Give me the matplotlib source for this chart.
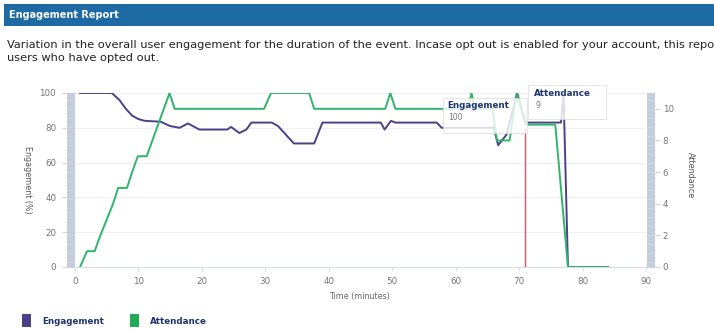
"""Engagement report chart: engagement (%) and attendance over the event."""

import matplotlib

matplotlib.use("Agg")

import matplotlib.pyplot as plt
from matplotlib.patches import Rectangle

# --- data ------------------------------------------------------------------
eng_time = [0.8, 5.8, 7.0, 8.0, 9.0, 10.0, 11.0, 13.5, 15.0, 16.5, 17.8, 19.6,
            24.0, 24.6, 25.9, 27.0, 27.8, 31.0, 32.0, 33.0, 34.5, 37.7, 39.0,
            48.2, 48.8, 49.8, 50.5, 57.0, 57.8, 66.0, 66.7, 68.0, 69.7, 71.0,
            76.6, 77.0, 77.7, 84.0]
eng_value = [100, 100, 96, 91, 87, 85, 84, 83.5, 81, 80, 82.5, 79,
             79, 80.5, 77, 79, 83, 83, 81, 77, 71, 71, 83,
             83, 79, 84, 83, 83, 80, 80, 70, 76, 100, 83,
             83, 100, 0, 0]

att_time = [0.8, 1.9, 3.1, 4.0, 5.0, 6.0, 6.8, 8.2, 9.0, 9.9, 11.3, 12.2,
            13.1, 14.0, 14.9, 15.7, 29.8, 30.9, 36.9, 37.7, 48.9, 49.7, 50.5,
            62.0, 62.5, 63.0, 65.8, 66.5, 68.5, 69.6, 71.0, 75.7, 77.7, 84.0]
att_value = [0, 1, 1, 2, 3, 4, 5, 5, 6, 7, 7, 8,
             9, 10, 11, 10, 10, 11, 11, 10, 10, 11, 10,
             10, 11, 10, 10, 8, 8, 11, 9, 9, 0, 0]

x_ticks = [0, 10, 20, 30, 40, 50, 60, 70, 80, 90]
eng_ticks = [0, 20, 40, 60, 80, 100]
att_ticks = [0, 2, 4, 6, 8, 10]
marker_time = 71.0
tip_engagement = "100"
tip_attendance = "9"

PURPLE = "#4b4189"
GREEN = "#2fb46b"
HEADER_BLUE = "#1d6aa5"
TEXT_NAVY = "#1f3570"
W, H = 714, 329


def px(x, y):
    """Pixel position (from top-left) to figure fraction."""
    return x / W, 1 - y / H


fig = plt.figure(figsize=(W / 100, H / 100), dpi=100)
fig.patch.set_facecolor("white")

# header bar and intro text
fig.patches.append(Rectangle(px(4, 26), 710 / W, 22 / H, transform=fig.transFigure,
                             facecolor=HEADER_BLUE, edgecolor="none"))
fig.text(*px(9, 15.5), "Engagement Report", color="white", fontsize=7,
         fontweight="bold", va="center")
fig.text(*px(7, 45), "Variation in the overall user engagement for the duration of "
         "the event. Incase opt out is enabled for your account, this report "
         "excludes", fontsize=8.2, color="#222222", va="center")
fig.text(*px(7, 58), "users who have opted out.", fontsize=8.2, color="#222222",
         va="center")

# main axes
x0, y_top = px(75, 93)
x1, y_bot = px(646, 267)
ax = fig.add_axes([x0, y_bot, x1 - x0, y_top - y_bot])
ax2 = ax.twinx()

ax.set_xlim(0, 90)
ax.set_ylim(0, 100)
ax2.set_ylim(0, 11)

ax.plot(eng_time, eng_value, color=PURPLE, lw=1.4, zorder=3)
ax2.plot(att_time, att_value, color=GREEN, lw=1.4, zorder=3)
ax.vlines(marker_time, 0, 80, color="#e0506a", lw=1.0, zorder=4)

for a in (ax, ax2):
    for side in a.spines:
        a.spines[side].set_visible(False)
ax.spines["bottom"].set_visible(True)
ax.spines["bottom"].set_color("#d8dde4")

ax.set_xticks(x_ticks)
ax.set_yticks(eng_ticks)
ax2.set_yticks(att_ticks)
ax.grid(axis="y", color="#eef0f3", lw=0.7)
ax.set_axisbelow(True)

ax.tick_params(axis="x", length=3, color="#dde1e6", pad=4.5, labelsize=6.3,
               labelcolor="#777777")
ax.tick_params(axis="y", length=9.5, color="#cfd5dc", pad=4, labelsize=6.3,
               labelcolor="#777777")
ax2.tick_params(axis="y", length=10, color="#cfd5dc", pad=2, labelsize=6.3,
                labelcolor="#777777")

fig.text(*px(360, 296), "Time (minutes)", fontsize=5.8, color="#666666",
         ha="center", va="center")
fig.text(*px(27, 180), "Engagement (%)", fontsize=5.8, color="#555555",
         rotation=-90, ha="center", va="center")
fig.text(*px(690, 175), "Attendance", fontsize=5.8, color="#555555",
         rotation=-90, ha="center", va="center")

# grey range bars on both sides of the plot
for bx in (67, 647):
    fig.patches.append(Rectangle(px(bx, 267), 7.5 / W, 174 / H,
                                 transform=fig.transFigure, facecolor="#c3cddb",
                                 edgecolor="none", zorder=5))
    for sy in range(100, 267, 9):
        fig.lines.append(plt.Line2D([bx / W, (bx + 7.5) / W], [1 - sy / H] * 2,
                                    transform=fig.transFigure, color="#d4dce6",
                                    lw=0.5, zorder=6))

# hover tooltips
tip_style = dict(facecolor="white", edgecolor="#d6dbe1", lw=0.6, alpha=0.82,
                 transform=fig.transFigure, zorder=7)
fig.patches.append(Rectangle(px(443, 133), 84 / W, 35 / H, **tip_style))
fig.patches.append(Rectangle(px(528, 119), 78 / W, 34 / H, **tip_style))
fig.text(*px(447, 105), "Engagement", fontsize=6.3, fontweight="bold",
         color=TEXT_NAVY, va="center", zorder=8)
fig.text(*px(448, 117), tip_engagement, fontsize=5.5, color="#777777",
         va="center", zorder=8)
fig.text(*px(534, 93.5), "Attendance", fontsize=6.3, fontweight="bold",
         color=TEXT_NAVY, va="center", zorder=8)
fig.text(*px(535, 105), tip_attendance, fontsize=5.5, color="#777777",
         va="center", zorder=8)

# legend
for lx, color, label in ((22, PURPLE, "Engagement"), (130, "#22aa58", "Attendance")):
    fig.patches.append(Rectangle(px(lx, 327), 9 / W, 13 / H,
                                 transform=fig.transFigure, facecolor=color,
                                 edgecolor="none"))
    fig.text(*px(lx + 20, 321), label, fontsize=6.3, fontweight="bold",
             color=TEXT_NAVY, va="center")

fig.savefig("out.png", dpi=100)
